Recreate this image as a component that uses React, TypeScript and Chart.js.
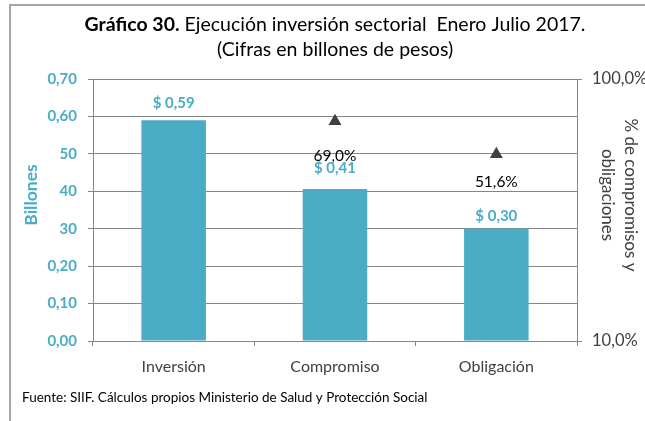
import React, { useEffect, useRef } from 'react';
import { Chart, registerables } from 'chart.js';

Chart.register(...registerables);

const categories = ['Inversión', 'Compromiso', 'Obligación'];
const amounts = [0.59, 0.406, 0.3];
const amountLabels = ['$ 0,59', '$ 0,41', '$ 0,30'];
const percents = [null, 69.0, 51.6];
const percentLabels = ['', '69,0%', '51,6%'];
const leftTickValues = [0, 0.1, 0.2, 0.3, 0.4, 0.5, 0.6, 0.7];
const leftTickLabels = ['0,00', '0,10', '0,20', '30', '40', '50', '0,60', '0,70'];
const rightTickValues = [10, 100];
const rightTickLabels = ['10,0%', '100,0%'];
const titleBold = 'Gráfico 30.';
const titleRest = ' Ejecución inversión sectorial  Enero Julio 2017.';
const subtitle = '(Cifras en billones de pesos)';
const leftAxisTitle = 'Billones';
const rightAxisTitle = ['% de compromisos y', 'obligaciones'];
const sourceText = 'Fuente: SIIF. Cálculos propios Ministerio de Salud y Protección Social';

const FONT = 'Lato, "Open Sans", sans-serif';
const TEAL = '#4BACC6';
const GRID = '#868686';
const DARK = '#404040';

const decorPlugin = {
  id: 'decor',
  beforeDraw(chart: any) {
    const ctx = chart.ctx;
    ctx.save();
    ctx.fillStyle = '#ffffff';
    ctx.fillRect(0, 0, chart.width, chart.height);
    ctx.restore();
  },
  afterDraw(chart: any) {
    const ctx = chart.ctx;
    ctx.save();
    // outer frame
    ctx.strokeStyle = '#a6a6a6';
    ctx.lineWidth = 2;
    ctx.beginPath();
    ctx.moveTo(10, chart.height + 5);
    ctx.lineTo(10, 5);
    ctx.lineTo(chart.width + 5, 5);
    ctx.stroke();

    // title
    ctx.fillStyle = '#000000';
    ctx.textBaseline = 'middle';
    ctx.font = `bold 19.5px ${FONT}`;
    const wb = ctx.measureText(titleBold).width;
    ctx.font = `19.5px ${FONT}`;
    const wr = ctx.measureText(titleRest).width;
    const cx = 335;
    const x0 = cx - (wb + wr) / 2;
    ctx.textAlign = 'left';
    ctx.font = `bold 19.5px ${FONT}`;
    ctx.fillText(titleBold, x0, 25);
    ctx.font = `19.5px ${FONT}`;
    ctx.fillText(titleRest, x0 + wb, 25);
    ctx.textAlign = 'center';
    ctx.fillText(subtitle, cx, 50);

    // left axis title
    ctx.save();
    ctx.translate(31, 195);
    ctx.rotate(-Math.PI / 2);
    ctx.font = `bold 17.5px ${FONT}`;
    ctx.fillStyle = TEAL;
    ctx.textAlign = 'center';
    ctx.fillText(leftAxisTitle, 0, 0);
    ctx.restore();

    // right axis title
    ctx.save();
    ctx.translate(619, 195);
    ctx.rotate(Math.PI / 2);
    ctx.font = `17px ${FONT}`;
    ctx.fillStyle = DARK;
    ctx.textAlign = 'center';
    ctx.fillText(rightAxisTitle[0], 0, -11.5);
    ctx.fillText(rightAxisTitle[1], 0, 11.5);
    ctx.restore();

    // source
    ctx.font = `13.5px ${FONT}`;
    ctx.fillStyle = '#000000';
    ctx.textAlign = 'left';
    ctx.fillText(sourceText, 22, 398);

    // bar labels
    const barMeta = chart.getDatasetMeta(0);
    const barOffsets = [17, 21, 13];
    ctx.font = `bold 15px ${FONT}`;
    ctx.fillStyle = TEAL;
    ctx.textAlign = 'center';
    barMeta.data.forEach((el: any, i: number) => {
      ctx.fillText(amountLabels[i], el.x, el.y - barOffsets[i]);
    });

    // percent labels
    const lineMeta = chart.getDatasetMeta(1);
    const pctOffsets = [0, 35, 28];
    ctx.font = `15.5px ${FONT}`;
    ctx.fillStyle = '#000000';
    lineMeta.data.forEach((el: any, i: number) => {
      if (percents[i] == null) return;
      ctx.fillText(percentLabels[i], el.x, el.y + pctOffsets[i]);
    });
    ctx.restore();
  },
};

export default function App() {
  const ref = useRef<HTMLCanvasElement | null>(null);
  useEffect(() => {
    if (!ref.current) return;
    const chart = new Chart(ref.current, {
      type: 'bar',
      data: {
        labels: categories,
        datasets: [
          {
            type: 'bar',
            data: amounts,
            backgroundColor: TEAL,
            categoryPercentage: 1,
            barPercentage: 0.4,
            yAxisID: 'y',
            order: 2,
          } as any,
          {
            type: 'line',
            data: percents,
            yAxisID: 'y1',
            showLine: false,
            pointStyle: 'triangle',
            pointRadius: 7.5,
            pointBackgroundColor: DARK,
            pointBorderColor: DARK,
            pointBorderWidth: 0,
            order: 1,
          } as any,
        ],
      },
      options: {
        responsive: false,
        animation: false,
        events: [],
        layout: { padding: { top: 79, left: 0, right: 0, bottom: 0 } },
        plugins: {
          legend: { display: false },
          title: { display: false },
          tooltip: { enabled: false },
        },
        scales: {
          x: {
            grid: {
              drawOnChartArea: false,
              drawTicks: true,
              tickLength: 5,
              color: GRID,
            },
            border: { display: true, color: GRID },
            ticks: {
              color: DARK,
              font: { family: FONT, size: 16 },
              padding: 11,
            },
            afterFit(scale: any) {
              scale.height = 80;
            },
          },
          y: {
            type: 'linear',
            position: 'left',
            min: 0,
            max: 0.7,
            grid: { color: GRID, tickLength: 5, drawTicks: true },
            border: { display: true, color: GRID },
            afterBuildTicks(scale: any) {
              scale.ticks = leftTickValues.map((v) => ({ value: v }));
            },
            ticks: {
              color: TEAL,
              font: { family: FONT, size: 15, weight: 'bold' },
              padding: 11,
              callback: (_v: any, i: number) => leftTickLabels[i],
            },
            afterFit(scale: any) {
              scale.width = 93;
            },
          },
          y1: {
            type: 'logarithmic',
            position: 'right',
            min: 10,
            max: 100,
            grid: { drawOnChartArea: false, color: GRID, tickLength: 5, drawTicks: true },
            border: { display: true, color: GRID },
            afterBuildTicks(scale: any) {
              scale.ticks = rightTickValues.map((v) => ({ value: v }));
            },
            ticks: {
              color: DARK,
              font: { family: FONT, size: 16.5 },
              padding: 10,
              crossAlign: 'near',
              callback: (_v: any, i: number) => rightTickLabels[i],
            },
            afterFit(scale: any) {
              scale.width = 68;
            },
          },
        } as any,
      },
      plugins: [decorPlugin],
    } as any);
    return () => chart.destroy();
  }, []);
  return (
    <div style={{ position: 'fixed', left: 0, top: 0, width: 645, height: 421 }}>
      <canvas ref={ref} width={645} height={421} style={{ width: 645, height: 421, display: 'block' }} />
    </div>
  );
}
